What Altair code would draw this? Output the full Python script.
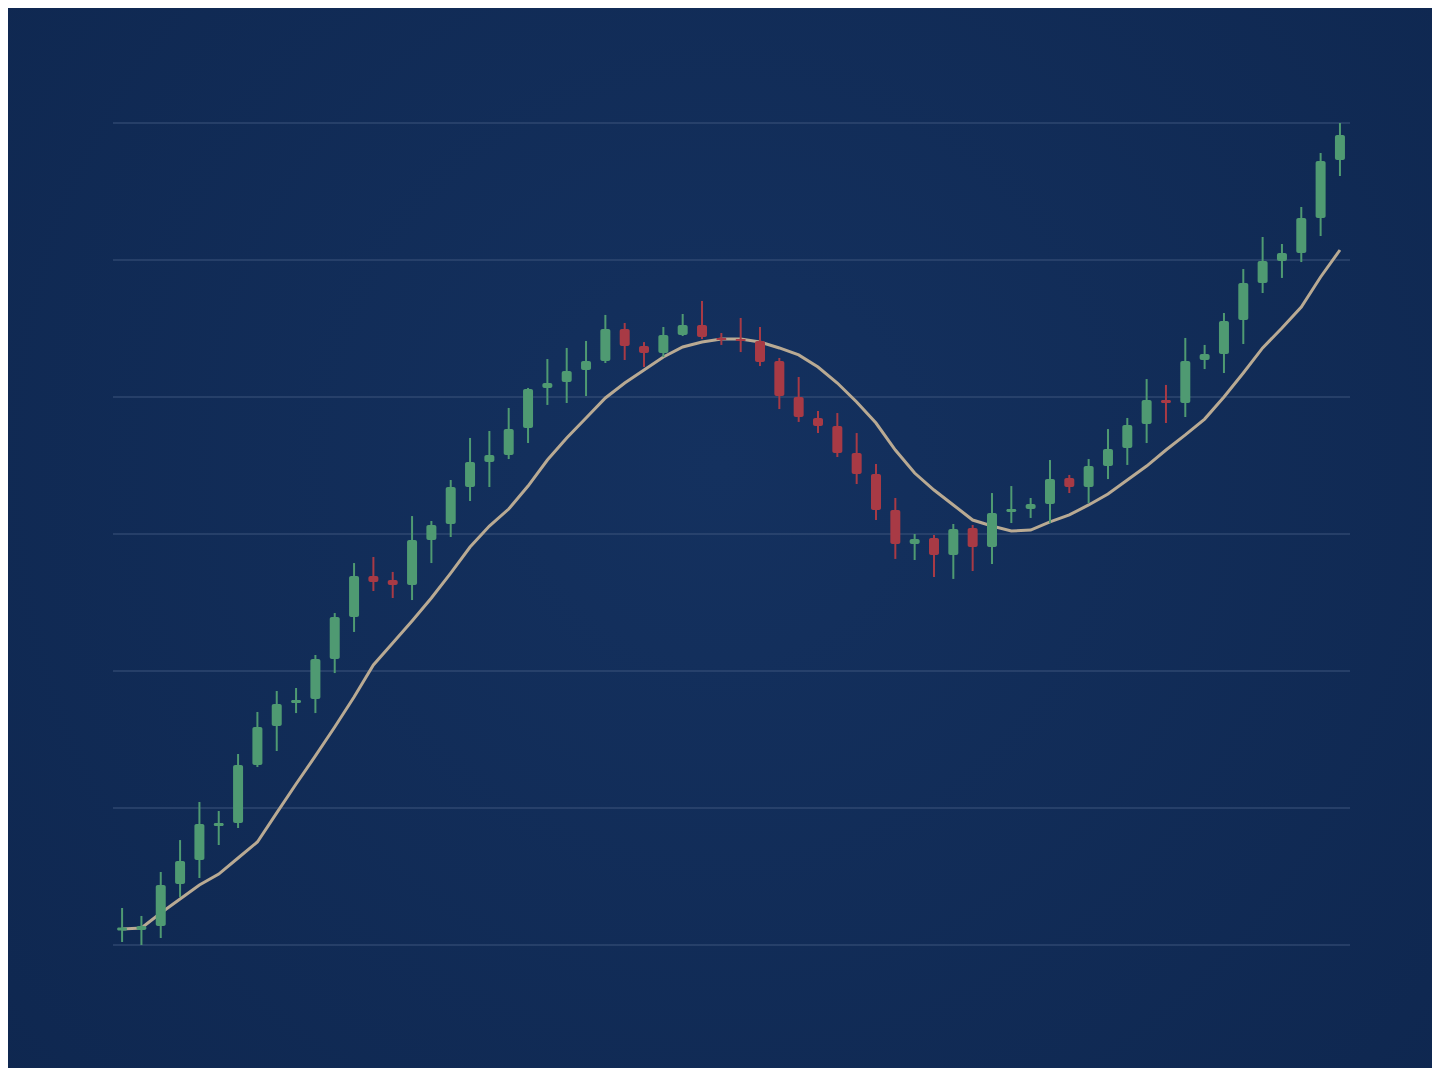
import altair as alt
import pandas as pd

# ---- data ----
opens = [101.06, 101.09, 101.39, 104.45, 106.20, 108.69, 108.91, 113.14, 115.99, 117.66,
         117.96, 120.88, 123.94, 126.93, 126.64, 126.28, 129.56, 130.73, 133.43, 135.26,
         135.77, 137.74, 140.66, 141.09, 141.97, 142.63, 144.96, 143.72, 143.21, 144.53,
         145.26, 144.31, 144.23, 144.09, 142.63, 140.00, 138.47, 137.88, 135.91, 134.38,
         131.75, 129.27, 129.71, 128.47, 130.44, 129.05, 131.61, 131.82, 132.19, 134.09,
         133.43, 134.96, 136.28, 138.03, 139.78, 139.56, 142.70, 143.14, 145.62, 148.32,
         149.93, 150.51, 153.07, 157.30]
closes = [101.28, 101.39, 104.38, 106.13, 108.83, 108.91, 113.14, 115.91, 117.59, 117.88,
          120.88, 123.94, 126.93, 126.50, 126.28, 129.56, 130.66, 133.43, 135.26, 135.77,
          137.66, 140.58, 141.02, 141.90, 142.63, 144.96, 143.72, 143.21, 144.53, 145.26,
          144.38, 144.16, 144.09, 142.55, 140.07, 138.54, 137.88, 135.91, 134.38, 131.75,
          129.27, 129.64, 128.47, 130.36, 129.05, 131.53, 131.82, 132.19, 134.01, 133.43,
          134.96, 136.20, 137.96, 139.78, 139.56, 142.63, 143.14, 145.55, 148.32, 149.93,
          150.51, 153.07, 157.23, 159.12]
highs = [102.70, 102.12, 105.33, 107.66, 110.44, 109.78, 113.94, 117.01, 118.54, 118.76,
         121.17, 124.23, 127.88, 128.32, 127.23, 131.31, 130.95, 133.94, 137.01, 137.52,
         139.20, 140.66, 142.77, 143.58, 144.09, 145.99, 145.40, 144.01, 145.11, 146.06,
         147.01, 144.67, 145.77, 145.11, 142.85, 141.46, 138.98, 138.83, 137.37, 135.11,
         132.63, 130.00, 129.93, 130.73, 130.66, 132.99, 133.50, 132.63, 135.40, 134.31,
         135.47, 137.66, 138.47, 141.31, 140.88, 144.31, 143.80, 146.13, 149.34, 151.68,
         151.17, 153.87, 157.81, 160.00]
lows = [100.22, 100.00, 100.51, 103.50, 104.89, 107.30, 108.54, 112.99, 114.16, 116.93,
        116.93, 119.85, 122.85, 125.84, 125.33, 125.18, 127.88, 129.78, 132.41, 133.43,
        135.47, 136.64, 139.42, 139.56, 140.07, 142.48, 142.70, 142.19, 142.92, 144.45,
        144.23, 143.80, 143.28, 142.26, 139.12, 138.18, 137.37, 135.62, 133.65, 131.02,
        128.18, 128.10, 126.86, 126.72, 127.30, 127.81, 130.80, 131.17, 130.80, 132.99,
        132.26, 134.01, 135.04, 136.64, 138.10, 138.54, 142.04, 141.75, 143.87, 147.59,
        148.69, 149.85, 151.75, 156.13]
moving_avg = [101.17, 101.24, 102.34, 103.36, 104.38, 105.18, 106.35, 107.52, 109.64, 111.75,
              113.80, 115.91, 118.10, 120.44, 122.04, 123.65, 125.33, 127.15, 129.05, 130.58,
              131.82, 133.50, 135.40, 137.01, 138.47, 139.93, 141.02, 141.97, 142.92, 143.65,
              144.01, 144.23, 144.23, 144.01, 143.58, 143.07, 142.19, 141.02, 139.64, 138.10,
              136.13, 134.45, 133.21, 132.12, 131.02, 130.58, 130.22, 130.29, 130.88, 131.39,
              132.12, 132.92, 133.94, 134.96, 136.13, 137.23, 138.39, 140.00, 141.75, 143.58,
              145.04, 146.57, 148.76, 150.73]
grid_levels = [100, 110, 120, 130, 140, 150, 160]

n = len(opens)
df = pd.DataFrame({
    "i": list(range(1, n + 1)),
    "open": opens, "close": closes, "high": highs, "low": lows, "ma": moving_avg,
})
df["dir"] = ["up" if c >= o else "down" for o, c in zip(opens, closes)]

W, H = 1237, 822
PAD = {"left": 105, "top": 115, "right": 82, "bottom": 123}

xscale = alt.Scale(domain=[0.53, 64.52], nice=False, zero=False, padding=0)
yscale = alt.Scale(domain=[100, 160], nice=False, zero=False, padding=0)
colscale = alt.Scale(domain=["up", "down"], range=["#4f9a72", "#a83a45"])

bg = alt.Chart(alt.Data(values=[{}])).mark_rect(
    fill=alt.RadialGradient(
        gradient="radial",
        stops=[alt.GradientStop(offset=0, color="#14315f"),
               alt.GradientStop(offset=1, color="#0e264e")],
        x1=0.5, y1=0.45, r1=0, x2=0.5, y2=0.45, r2=0.75,
    ),
    strokeWidth=0,
).encode(
    x=alt.value(-PAD["left"]), x2=alt.value(W + PAD["right"]),
    y=alt.value(-PAD["top"]), y2=alt.value(H + PAD["bottom"]),
)

grid = alt.Chart(pd.DataFrame({"level": grid_levels})).mark_rule(
    color="#3d547c", strokeWidth=1
).encode(
    y=alt.Y("level:Q", scale=yscale, axis=None),
    x=alt.value(0), x2=alt.value(W),
)

base = alt.Chart(df)

line = base.mark_line(color="#b9aa93", strokeWidth=3).encode(
    x=alt.X("i:Q", scale=xscale, axis=None),
    y=alt.Y("ma:Q", scale=yscale, axis=None),
)

wicks = base.mark_rule(strokeWidth=2).encode(
    x=alt.X("i:Q", scale=xscale, axis=None),
    y=alt.Y("low:Q", scale=yscale, axis=None),
    y2="high:Q",
    color=alt.Color("dir:N", scale=colscale, legend=None),
)

bodies = base.mark_bar(size=10, cornerRadius=2).encode(
    x=alt.X("i:Q", scale=xscale, axis=None),
    y=alt.Y("open:Q", scale=yscale, axis=None),
    y2="close:Q",
    color=alt.Color("dir:N", scale=colscale, legend=None),
)

chart = alt.layer(bg, grid, line, wicks, bodies).properties(
    width=W, height=H,
    padding=PAD,
    autosize=alt.AutoSizeParams(type="none"),
).configure(background="#102a55").configure_view(stroke=None)

chart.save("out.html", embed_options={"renderer": "svg", "actions": False})
